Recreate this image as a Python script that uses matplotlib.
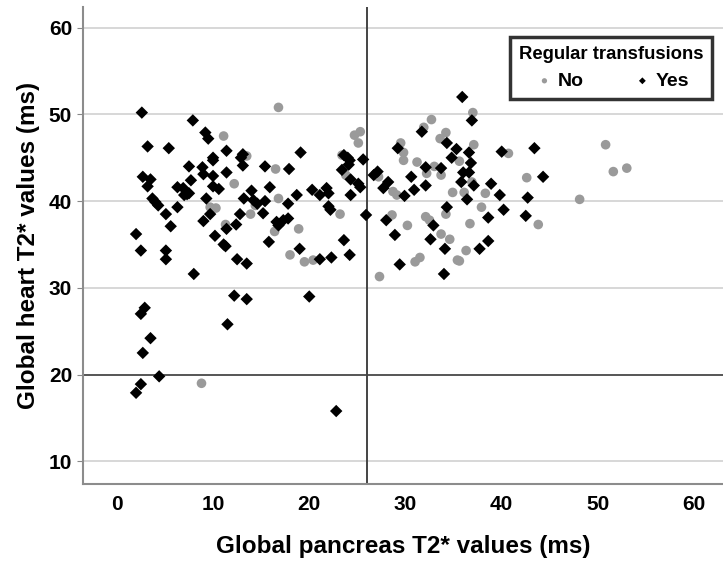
import numpy as np
import matplotlib.pyplot as plt

# regular transfusions = Yes (black diamonds)
yes_x = [2.6, 7.9, 9.2, 9.5, 3.2, 5.4, 11.4, 12.9, 13.1, 13.1, 10.0, 10.0, 15.4, 7.5, 8.9, 9.0,
         11.4, 2.7, 3.5, 3.2, 7.7, 10.0, 6.3, 6.9, 7.3, 7.5, 7.0, 10.0, 10.6, 14.0, 15.9,
         3.7, 4.0, 4.3, 9.3, 13.2, 14.2, 14.6, 15.4, 6.3, 5.1, 9.7, 12.8, 15.2, 16.6, 16.8,
         5.6, 9.0, 11.4, 12.4, 10.2, 11.1, 11.3, 15.8, 2.0, 2.5, 5.1, 5.1, 12.5, 13.5, 8.0,
         31.7, 34.3, 35.3, 29.2, 34.8, 32.1, 33.7, 19.1, 17.9, 23.6, 24.0, 24.2, 24.1, 23.4,
         25.6, 24.3, 25.3, 25.1, 26.7, 27.1, 28.2, 27.7, 30.6, 30.9, 32.1, 29.9, 17.8, 18.7,
         20.3, 21.8, 21.1, 22.0, 22.0, 22.2, 24.3, 25.9, 17.3, 17.8, 19.0, 21.1, 22.3, 23.6,
         24.2, 28.0, 28.9, 32.9, 32.6, 34.1, 29.4, 34.0,
         35.9, 36.9, 36.6, 36.8, 40.0, 43.4, 36.0, 36.6, 35.8, 37.1, 38.9, 44.3, 39.8, 36.4,
         42.7, 34.3, 40.2, 38.6, 42.5, 37.7, 38.6,
         12.2, 13.5, 20.0, 2.9, 2.5, 11.5, 3.5, 2.7, 4.4, 2.5, 2.0, 22.8]
yes_y = [50.2, 49.3, 47.9, 47.2, 46.3, 46.1, 45.8, 45.0, 45.4, 44.1, 45.0, 44.7, 44.0, 44.0, 43.9, 43.1,
         43.3, 42.8, 42.5, 41.7, 42.4, 42.9, 41.6, 41.5, 40.8, 40.9, 40.7, 41.7, 41.4, 41.2, 41.6,
         40.3, 39.9, 39.5, 40.3, 40.3, 40.1, 39.7, 40.0, 39.3, 38.5, 38.5, 38.5, 38.6, 37.6, 37.2,
         37.1, 37.7, 36.8, 37.3, 36.0, 35.0, 34.8, 35.3, 36.2, 34.3, 34.3, 33.3, 33.3, 32.8, 31.6,
         48.0, 46.7, 46.0, 46.1, 45.0, 43.9, 43.8, 45.6, 43.7, 45.3, 45.0, 44.7, 44.2, 43.6,
         44.8, 42.5, 41.6, 42.0, 43.0, 43.4, 42.2, 41.5, 42.8, 41.3, 41.8, 40.6, 39.7, 40.7,
         41.3, 41.5, 40.7, 40.9, 39.4, 39.0, 40.7, 38.4, 37.8, 38.0, 34.5, 33.3, 33.5, 35.5,
         33.8, 37.8, 36.1, 37.2, 35.6, 34.5, 32.7, 31.6,
         52.0, 49.3, 45.6, 44.4, 45.7, 46.1, 43.3, 43.3, 42.2, 41.8, 42.0, 42.8, 40.7, 40.2,
         40.4, 39.3, 39.0, 38.1, 38.3, 34.5, 35.4,
         29.1, 28.7, 29.0, 27.7, 27.0, 25.8, 24.2, 22.5, 19.8, 18.9, 17.9, 15.8]

# regular transfusions = No (grey circles)
no_x = [11.1, 13.5, 16.5, 16.8, 12.2, 16.8, 14.4, 9.7, 10.3, 13.9, 16.4, 11.3,
        24.7, 25.3, 25.1, 32.7, 31.9, 34.2, 33.6, 29.5, 29.8, 29.8, 31.2, 33.0, 33.7, 32.2,
        23.4, 23.8, 27.2, 28.7, 29.1, 34.9, 23.2, 18.9, 18.0, 19.5, 20.4, 27.3, 28.6, 30.2,
        32.1, 32.5, 33.7, 34.6, 31.0, 31.5, 35.4,
        37.0, 37.1, 35.6, 40.7, 36.9, 42.6, 36.1, 38.3, 48.1, 50.8, 51.6, 53.0, 34.2, 37.9,
        36.7, 43.8, 36.3, 35.6, 8.8]
no_y = [47.5, 45.2, 43.7, 50.8, 42.0, 40.3, 39.5, 39.3, 39.2, 38.5, 36.5, 37.3,
        47.6, 48.0, 46.7, 49.4, 48.5, 47.9, 47.2, 46.7, 45.6, 44.7, 44.5, 44.0, 43.0, 43.2,
        45.3, 43.0, 42.8, 41.1, 40.7, 41.0, 38.5, 36.8, 33.8, 33.0, 33.2, 31.3, 38.4, 37.2,
        38.2, 37.8, 36.2, 35.6, 33.0, 33.5, 33.2,
        50.2, 46.5, 44.6, 45.5, 42.2, 42.7, 41.0, 40.9, 40.2, 46.5, 43.4, 43.8, 38.5, 39.3,
        37.4, 37.3, 34.3, 33.1, 19.0]

plt.rcParams['font.family'] = ['Liberation Sans', 'DejaVu Sans']
plt.rcParams['font.weight'] = 'bold'

fig = plt.figure(figsize=(7.23, 5.64), dpi=100)
ax = fig.add_axes([0.115, 0.142, 0.885, 0.846])

for v in [10, 30, 40, 50, 60]:
    ax.axhline(v, color='#d4d4d4', lw=1.3, zorder=0)
ax.axhline(20, color='#555555', lw=1.4, zorder=1)
ax.axvline(26, color='#444444', lw=1.4, zorder=1)

ax.scatter(no_x, no_y, s=48, marker='o', color='#9a9a9a', edgecolors='none', zorder=2, label='No')
ax.scatter(yes_x, yes_y, s=40, marker='D', color='black', edgecolors='none', zorder=3, label='Yes')

ax.set_xlim(-3.5, 63)
ax.set_ylim(7.4, 62.4)
ax.set_xticks([0, 10, 20, 30, 40, 50, 60])
ax.set_yticks([10, 20, 30, 40, 50, 60])
ax.tick_params(axis='x', length=0, labelsize=15, pad=8)
ax.tick_params(axis='y', length=4, color='#888888', labelsize=15, pad=4)
for s in ['top', 'right']:
    ax.spines[s].set_visible(False)
for s in ['left', 'bottom']:
    ax.spines[s].set_color('#8c8c8c')
    ax.spines[s].set_linewidth(1.5)

ax.set_xlabel('Global pancreas T2* values (ms)', fontsize=17.5, fontweight='bold', labelpad=15)
ax.set_ylabel('Global heart T2* values (ms)', fontsize=17.5, fontweight='bold', labelpad=6)

leg = ax.legend(title='Regular transfusions', ncol=2, loc='upper right',
                bbox_to_anchor=(0.983, 0.937), borderaxespad=0, fontsize=14, title_fontsize=13.3,
                frameon=True, fancybox=False, edgecolor='black', markerscale=0.55,
                handlelength=1.2, handletextpad=0.1, columnspacing=2.4, borderpad=0.45)
leg.get_frame().set_linewidth(2.5)
leg.get_title().set_fontweight('bold')

fig.savefig('out.png', dpi=100)
